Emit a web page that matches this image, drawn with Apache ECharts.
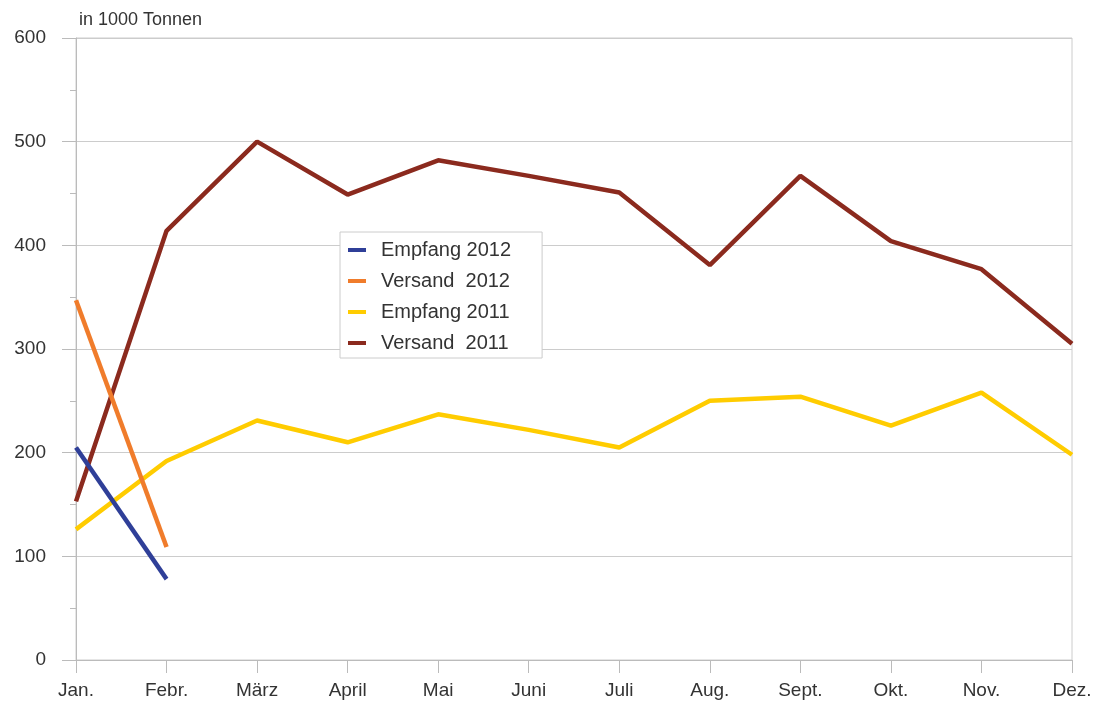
<!DOCTYPE html>
<html>
<head>
<meta charset="utf-8">
<script src="https://cdn.jsdelivr.net/npm/echarts@6/dist/echarts.min.js"></script>
<style>
  html, body { margin: 0; padding: 0; background: #fff; }
  #chart { width: 1097px; height: 710px; }
</style>
</head>
<body>
<div id="chart"></div>
<script>
// Monate
const months = ['Jan.', 'Febr.', 'März', 'April', 'Mai', 'Juni', 'Juli', 'Aug.', 'Sept.', 'Okt.', 'Nov.', 'Dez.']
// Werte in 1000 Tonnen
const empfang2012 = [205, 78]
const versand2012 = [347, 109]
const empfang2011 = [126, 192, 231, 210, 237, 222, 205, 250, 254, 226, 258, 198]
const versand2011 = [153, 414, 500, 449, 482, 467, 451, 381, 467, 404, 377, 305]

const font = 'Liberation Sans, Arial, Helvetica, sans-serif'
const chart = echarts.init(document.getElementById('chart'))

const line = (name, data, color) => ({
  name,
  type: 'line',
  data,
  symbol: 'none',
  lineStyle: { color, width: 4.5 },
  itemStyle: { color },
  animation: false
})

chart.setOption({
  animation: false,
  textStyle: { fontFamily: font },
  grid: {
    left: 76, right: 25, top: 38, bottom: 50,
    show: true, borderColor: '#cccccc', borderWidth: 1
  },
  title: {
    text: 'in 1000 Tonnen',
    left: 74, top: 6,
    textStyle: { fontFamily: font, fontSize: 18, fontWeight: 'normal', color: '#333' }
  },
  legend: {
    orient: 'vertical',
    left: 340, top: 232,
    data: ['Empfang 2012', 'Versand  2012', 'Empfang 2011', 'Versand  2011'],
    icon: 'rect',
    itemWidth: 18, itemHeight: 4,
    itemGap: 11,
    padding: [8, 31, 5, 8],
    backgroundColor: '#fff',
    borderColor: '#cccccc', borderWidth: 1,
    textStyle: { fontFamily: font, fontSize: 20, color: '#333', padding: [0, 0, 0, 10] }
  },
  xAxis: {
    type: 'category',
    data: months,
    boundaryGap: false,
    axisLine: { lineStyle: { color: '#bbbbbb', width: 1 } },
    axisTick: { show: true, length: 13, alignWithLabel: true, lineStyle: { color: '#bbbbbb' } },
    axisLabel: { margin: 21, fontSize: 19, color: '#333', fontFamily: font },
    splitLine: { show: false }
  },
  yAxis: {
    type: 'value',
    min: 0, max: 600, interval: 100,
    axisLine: { show: true, lineStyle: { color: '#bbbbbb', width: 1 } },
    axisTick: { show: true, length: 14, lineStyle: { color: '#bbbbbb' } },
    minorTick: { show: true, splitNumber: 2, length: 6, lineStyle: { color: '#bbbbbb' } },
    axisLabel: { margin: 30, fontSize: 19, color: '#333', fontFamily: font, padding: [3, 0, 0, 0] },
    splitLine: { show: true, lineStyle: { color: '#cccccc', width: 1 } }
  },
  series: [
    line('Versand  2011', versand2011, '#8b2a1e'),
    line('Empfang 2011', empfang2011, '#ffcc00'),
    line('Versand  2012', versand2012, '#f07c2b'),
    line('Empfang 2012', empfang2012, '#2f3f98')
  ]
})
</script>
</body>
</html>
